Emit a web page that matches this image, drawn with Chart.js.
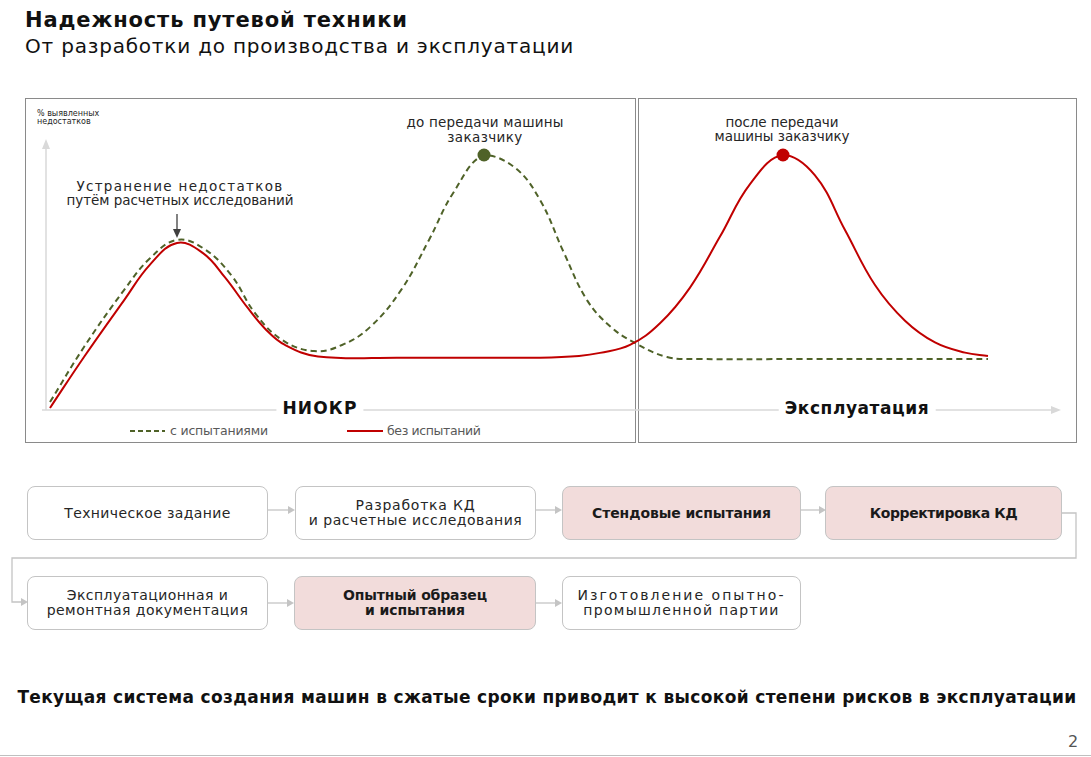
<!DOCTYPE html>
<html lang="ru">
<head>
<meta charset="utf-8">
<script src="https://cdn.jsdelivr.net/npm/chart.js@4.4.1/dist/chart.umd.min.js"></script>
<style>
  body { margin: 0; width: 1091px; height: 757px; position: relative; overflow: hidden; background: #fff;
         font-family: "DejaVu Sans", "Noto Sans", sans-serif; color: #1f1f1f; }
  .a { position: absolute; white-space: nowrap; }
  .c { position: absolute; white-space: nowrap; transform: translate(-50%, -50%); }
  .panel { position: absolute; border: 1.5px solid #8a8a8a; box-sizing: border-box; }
  .box { position: absolute; box-sizing: border-box; border: 1px solid #c4c4c4; border-radius: 8px; background: #fff;
         display: flex; flex-direction: column; align-items: center; justify-content: center;
         font-size: 14px; line-height: 15px; color: #262626; }
  .box span { display: inline-block; white-space: nowrap; }
  .box.hl { background: #f2dcdb; font-weight: 700; color: #1a1a1a; font-size: 14px; }
  svg.layer { position: absolute; left: 0; top: 0; }
  #chart { position: absolute; left: 0; top: 98px; z-index: 3; }
  .ann { font-size: 13.5px; color: #262626; }
  .leg { font-size: 12.5px; color: #595959; }
  .axlab { font-size: 17px; font-weight: 700; color: #111; background: #fff; padding: 0 6px; }
</style>
</head>
<body>

<div class="a" data-w="382" style="left:25px;top:8px;font-size:21px;font-weight:700;color:#111">Надежность путевой техники</div>
<div class="a" data-w="548" style="left:25px;top:34px;font-size:20px;color:#111">От разработки до производства и эксплуатации</div>

<div class="panel" style="left:25px;top:98px;width:611px;height:345px"></div>
<div class="panel" style="left:638px;top:98px;width:439px;height:345px"></div>

<svg class="layer" width="1091" height="757" style="z-index:1">
  <!-- оси -->
  <line x1="46" y1="410" x2="46" y2="148" stroke="#d9d9d9" stroke-width="1.5"/>
  <polygon points="46,139 42,149 50,149" fill="#d9d9d9"/>
  <line x1="42" y1="410" x2="1052" y2="410" stroke="#d9d9d9" stroke-width="1.5"/>
  <polygon points="1061,410 1051,406 1051,414" fill="#d9d9d9"/>
  <!-- стрелка к первому пику -->
  <line x1="177" y1="214" x2="177" y2="230" stroke="#404040" stroke-width="1.3"/>
  <polygon points="177,238 173,229 181,229" fill="#404040"/>
  <!-- стрелки схемы -->
  <g stroke="#c4c4c4" stroke-width="1.3" fill="none">
    <line x1="268" y1="510" x2="289" y2="510"/>
    <line x1="536" y1="510" x2="556" y2="510"/>
    <line x1="801" y1="510" x2="820" y2="510"/>
    <line x1="268" y1="603" x2="288" y2="603"/>
    <line x1="536" y1="603" x2="556" y2="603"/>
    <polyline points="1062,513 1076,513 1076,558 12,558 12,602 22,602"/>
  </g>
  <g fill="#c4c4c4">
    <polygon points="295,510 288,506 288,514"/>
    <polygon points="562,510 555,506 555,514"/>
    <polygon points="826,510 819,506 819,514"/>
    <polygon points="294,603 287,599 287,607"/>
    <polygon points="562,603 555,599 555,607"/>
    <polygon points="28,602 21,598 21,606"/>
  </g>
  <line x1="0" y1="755.5" x2="1091" y2="755.5" stroke="#bfbfbf" stroke-width="1"/>
  <!-- легенда -->
  <line x1="130" y1="431" x2="165" y2="431" stroke="#4f6228" stroke-width="2.2" stroke-dasharray="5,3"/>
  <line x1="347" y1="431" x2="383" y2="431" stroke="#c00000" stroke-width="2.2"/>
</svg>

<div class="a" style="left:37px;top:110px;font-size:8px;line-height:8px;color:#262626;z-index:2">% выявленных<br>недостатков</div>

<div class="c ann" data-w="206" style="left:180px;top:186px;z-index:2">Устранение недостатков</div>
<div class="c ann" data-w="227" style="left:180px;top:200px;z-index:2">путём расчетных исследований</div>
<div class="c ann" data-w="157" style="left:485px;top:122px;z-index:2">до передачи машины</div>
<div class="c ann" data-w="75" style="left:485px;top:137px;z-index:2">заказчику</div>
<div class="c ann" data-w="113" style="left:782px;top:122px;z-index:2">после передачи</div>
<div class="c ann" data-w="135" style="left:782px;top:136px;z-index:2">машины заказчику</div>

<div class="c axlab" style="left:320px;top:408px;z-index:2"><span data-w="74">НИОКР</span></div>
<div class="c axlab" style="left:857px;top:408px;z-index:2"><span data-w="144">Эксплуатация</span></div>

<div class="a leg" data-w="98" style="left:170px;top:423px;z-index:2">с испытаниями</div>
<div class="a leg" data-w="94" style="left:387px;top:423px;z-index:2">без испытаний</div>

<canvas id="chart" width="1091" height="350"></canvas>

<div class="box" style="left:27px;top:486px;width:241px;height:54px"><span data-w="166">Техническое задание</span></div>
<div class="box" style="left:295px;top:486px;width:241px;height:54px"><span data-w="119">Разработка КД</span><span data-w="213">и расчетные исследования</span></div>
<div class="box hl" style="left:562px;top:486px;width:239px;height:54px"><span data-w="179">Стендовые испытания</span></div>
<div class="box hl" style="left:825px;top:486px;width:237px;height:54px"><span data-w="148">Корректировка КД</span></div>
<div class="box" style="left:27px;top:576px;width:241px;height:54px"><span data-w="161">Эксплуатационная и</span><span data-w="201">ремонтная документация</span></div>
<div class="box hl" style="left:294px;top:576px;width:242px;height:54px"><span data-w="144">Опытный образец</span><span data-w="100">и испытания</span></div>
<div class="box" style="left:562px;top:576px;width:239px;height:54px"><span data-w="206">Изготовление опытно-</span><span data-w="195">промышленной партии</span></div>

<div class="c" data-w="1059" style="left:547px;top:697px;font-size:17px;font-weight:700;color:#111">Текущая система создания машин в сжатые сроки приводит к высокой степени рисков в эксплуатации</div>
<div class="a" style="left:1068px;top:732px;font-size:16px;color:#555">2</div>

<script>
// время (условные единицы) и доля выявленных недостатков, %
const redT = [0, 3.4, 7.4, 10, 12.7, 15.3, 17.5, 19.7, 21.6, 23.5, 26.8, 35, 45, 49, 52.9, 55, 58, 61, 64, 67, 70, 73.3, 76.5, 79.5, 82.5, 85.5, 88.5, 91.5, 93.8];
const redV = [0.8, 20.8, 43, 57, 65.5, 61.5, 52, 40.4, 31.5, 25.5, 21, 20.5, 20.5, 20.5, 21.2, 22.4, 25.5, 34, 48, 68, 88.6, 100, 92, 70.6, 49, 35, 26.5, 22.5, 21.2];
const greenT = [0, 3.4, 7.4, 10, 12.7, 15.3, 18.1, 20.5, 23.2, 26.4, 29.2, 32, 35.1, 37.9, 40.3, 43.4, 46.5, 49, 51.4, 53.7, 56.1, 58.5, 61.7, 65, 75, 85, 93.8];
const greenV = [3.1, 24.7, 47, 59.5, 66.7, 63.5, 53, 38, 27.5, 23.1, 25.5, 32.5, 47, 66.7, 85, 100, 95, 82.4, 61.6, 43.1, 32.5, 26.3, 20.8, 20, 20, 20, 20];

const toPoints = (t, v) => t.map((x, i) => ({ x: x, y: v[i] }));
const peakOf = v => v.indexOf(Math.max(...v));
const redPeak = peakOf(redV);
const greenPeak = peakOf(greenV);

new Chart(document.getElementById('chart'), {
    type: 'line',
    data: {
        datasets: [{
            label: 'без испытаний',
            data: toPoints(redT, redV),
            borderColor: '#c00000',
            backgroundColor: '#c00000',
            borderWidth: 2,
            tension: 0.4,
            pointRadius: c => c.dataIndex === redPeak ? 6.5 : 0,
            pointBorderWidth: 0,
            fill: false
        }, {
            label: 'с испытаниями',
            data: toPoints(greenT, greenV),
            borderColor: '#4f6228',
            backgroundColor: '#4f6228',
            borderWidth: 2,
            borderDash: [6, 4],
            tension: 0.4,
            pointRadius: c => c.dataIndex === greenPeak ? 6.5 : 0,
            pointBorderWidth: 0,
            fill: false
        }]
    },
    options: {
        responsive: false,
        animation: false,
        clip: false,
        layout: { padding: { left: 50, right: 41, top: 57, bottom: 38 } },
        scales: {
            x: { type: 'linear', min: 0, max: 100, display: false },
            y: { min: 0, max: 100, display: false }
        },
        plugins: { legend: { display: false }, tooltip: { enabled: false } }
    }
});

// подгонка ширины строк под макет
document.querySelectorAll('[data-w]').forEach(el => {
    const target = +el.dataset.w;
    const w = el.getBoundingClientRect().width;
    const n = el.textContent.length - 1;
    if (n > 0) el.style.letterSpacing = ((target - w) / n).toFixed(2) + 'px';
});
</script>
</body>
</html>
